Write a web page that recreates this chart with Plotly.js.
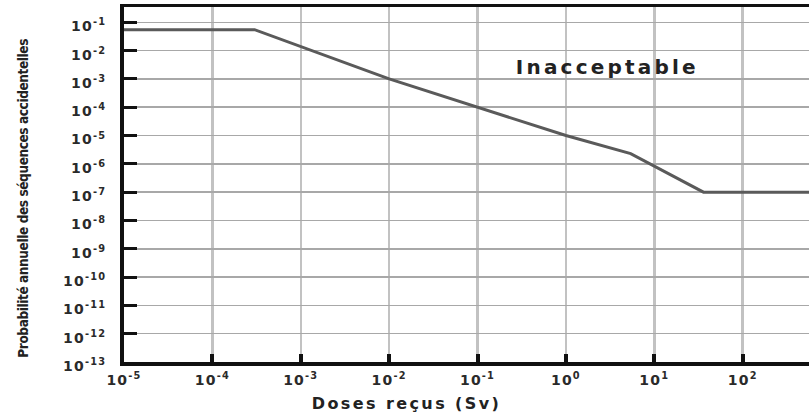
<!DOCTYPE html>
<html>
<head>
<meta charset="utf-8">
<script src="https://cdn.plot.ly/plotly-3.0.1.min.js"></script>
<style>
  html, body { margin: 0; padding: 0; background: #fff; }
  #chart { width: 809px; height: 414px; }
  .xtick text, .ytick text { letter-spacing: 1.2px; }
  .annotation[data-index="0"] text { letter-spacing: 3.2px; }
  .annotation[data-index="1"] text { letter-spacing: 2.4px; }
  .annotation[data-index="2"] text { letter-spacing: -0.4px; }
</style>
</head>
<body>
<div id="chart"></div>
<script>
// Doses reçues (Sv) and annual probability of accident sequences (limit curve)
const doseSv = [1e-5, 3e-4, 1e-2, 1e-1, 1, 5.4, 36, 1000];
const probAnnuelle = [0.055, 0.055, 1e-3, 1e-4, 1e-5, 2.3e-6, 1e-7, 1e-7];

// decade tick exponents
const xTickExp = [-5, -4, -3, -2, -1, 0, 1, 2];
const yTickExp = [-13, -12, -11, -10, -9, -8, -7, -6, -5, -4, -3, -2, -1];

const xTickVals = xTickExp.map(e => Math.pow(10, e));
const xTickText = xTickExp.map(e => '10<sup>' + (e < 0 ? '-' + (-e) : e) + '</sup>');
const yTickVals = yTickExp.map(e => Math.pow(10, e));
const yTickText = yTickExp.map(e => '10<sup>' + (e < 0 ? '-' + (-e) : e) + '</sup>');

const zoneLabel = 'Inacceptable';
const xTitle = 'Doses reçus (Sv)';
const yTitle = 'Probabilité annuelle des séquences accidentelles';

const tickFont = { family: 'DejaVu Sans, Verdana, sans-serif', size: 14, color: '#2a2a2a', weight: 'bold' };

const trace = {
  x: doseSv,
  y: probAnnuelle,
  type: 'scatter',
  mode: 'lines',
  line: { color: '#5a5a5a', width: 3 },
  hoverinfo: 'skip'
};

const layout = {
  width: 809,
  height: 414,
  margin: { l: 124, r: 0, t: 7, b: 52 },
  paper_bgcolor: '#ffffff',
  plot_bgcolor: '#ffffff',
  showlegend: false,
  xaxis: {
    type: 'log',
    range: [-5, 2.75],
    tickvals: xTickVals,
    ticktext: xTickText,
    tickfont: tickFont,
    ticks: 'inside',
    ticklen: 8,
    tickwidth: 4,
    tickcolor: '#111',
    ticklabelstandoff: 3,
    showgrid: true,
    gridcolor: '#c2c2c2',
    gridwidth: 2.5,
    showline: true,
    linecolor: '#111',
    linewidth: 3.5,
    mirror: true,
    zeroline: false
  },
  yaxis: {
    type: 'log',
    range: [-13, -0.46],
    tickvals: yTickVals,
    ticktext: yTickText,
    tickfont: tickFont,
    ticks: 'inside',
    ticklen: 13,
    tickwidth: 3,
    tickcolor: '#111',
    ticklabelstandoff: 11,
    ticklabelshift: 4,
    showgrid: true,
    gridcolor: '#a8a8a8',
    gridwidth: 1.5,
    showline: true,
    linecolor: '#111',
    linewidth: 4,
    mirror: false,
    zeroline: false
  },
  annotations: [
    {
      text: zoneLabel,
      xref: 'x', yref: 'y',
      x: 0.475, y: -2.58,
      xanchor: 'center', yanchor: 'middle',
      showarrow: false,
      font: { family: 'DejaVu Sans, sans-serif', size: 20, color: '#222', weight: 'bold' }
    },
    {
      text: xTitle,
      xref: 'paper', yref: 'paper',
      x: 0.412, y: -0.1155,
      xanchor: 'center', yanchor: 'middle',
      showarrow: false,
      font: { family: 'DejaVu Sans, sans-serif', size: 16, color: '#222', weight: 'bold' }
    },
    {
      text: yTitle,
      xref: 'paper', yref: 'paper',
      x: -0.147, y: 0.462,
      xanchor: 'center', yanchor: 'middle',
      textangle: -90,
      showarrow: false,
      font: { family: 'Liberation Sans Narrow, DejaVu Sans Condensed, sans-serif', size: 13.5, color: '#222', weight: 'bold' }
    }
  ]
};

Plotly.newPlot('chart', [trace], layout, { staticPlot: true, displayModeBar: false });
</script>
</body>
</html>
